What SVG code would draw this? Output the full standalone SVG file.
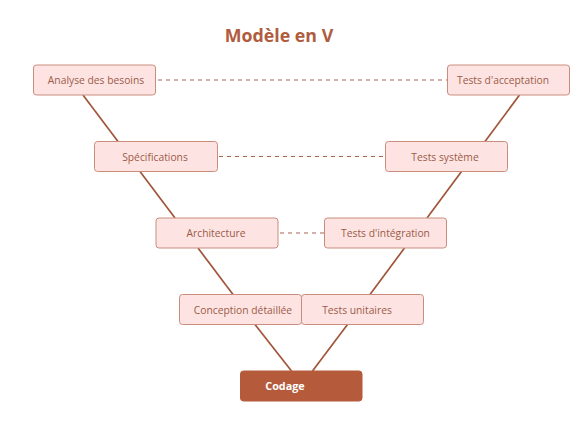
<svg xmlns="http://www.w3.org/2000/svg" width="583" height="428" viewBox="0 0 583 428">
<style>
.bg{fill:#ffffff}
.node rect{fill:#fde4e2;stroke:#c98d7e;stroke-width:1}
.node text{font-family:"Open Sans","Noto Sans",sans-serif;font-size:10.3px;fill:#9c5a48;text-anchor:middle}
.main rect{fill:#b55b3b;stroke:#b55b3b}
.main text{fill:#ffffff;font-weight:bold;font-size:10.8px}
.edge{stroke:#a0553a;stroke-width:1.7;fill:none}
.dash{stroke:#a8654f;stroke-width:1;stroke-dasharray:4 4;fill:none}
.title{font-family:"Open Sans","Noto Sans",sans-serif;font-size:17.8px;font-weight:bold;fill:#b05c3e;text-anchor:middle}
</style>
<rect class="bg" x="0" y="0" width="583" height="428"/>
<text class="title" x="279" y="42">Modèle en V</text>
<g id="connectors">
<line class="edge" x1="83" y1="95" x2="118" y2="141.5"/>
<line class="edge" x1="140" y1="171.5" x2="175" y2="218"/>
<line class="edge" x1="198" y1="248" x2="233" y2="294.5"/>
<line class="edge" x1="255" y1="324.5" x2="291.5" y2="371"/>
<line class="edge" x1="347.5" y1="324.5" x2="312.5" y2="371"/>
<line class="edge" x1="404.5" y1="248" x2="370" y2="294.5"/>
<line class="edge" x1="461.5" y1="171.5" x2="427" y2="218"/>
<line class="edge" x1="519.5" y1="95" x2="485" y2="141.5"/>
<line class="dash" x1="158" y1="80" x2="447" y2="80"/>
<line class="dash" x1="219" y1="156.5" x2="385" y2="156.5"/>
<line class="dash" x1="280" y1="233" x2="324" y2="233"/>
</g>
<g id="analyse" class="node"><rect x="33.5" y="65" width="122" height="30" rx="3"/><text x="96" y="84">Analyse des besoins</text></g>
<g id="specifications" class="node"><rect x="94.5" y="141.5" width="123" height="30" rx="3"/><text x="155" y="160.5">Spécifications</text></g>
<g id="architecture" class="node"><rect x="156" y="218" width="122" height="30" rx="3"/><text x="216" y="237">Architecture</text></g>
<g id="conception" class="node"><rect x="179.5" y="294.5" width="122" height="30" rx="3"/><text x="243" y="313.5">Conception détaillée</text></g>
<g id="codage" class="node main"><rect x="240.5" y="371" width="121.5" height="30" rx="3"/><text x="285" y="390">Codage</text></g>
<g id="unitaires" class="node"><rect x="301.5" y="294.5" width="122" height="30" rx="3"/><text x="357" y="313.5">Tests unitaires</text></g>
<g id="integration" class="node"><rect x="324.5" y="218" width="122" height="30" rx="3"/><text x="385.5" y="237">Tests d'intégration</text></g>
<g id="systeme" class="node"><rect x="385.5" y="141.5" width="122" height="30" rx="3"/><text x="445" y="160.5">Tests système</text></g>
<g id="acceptation" class="node"><rect x="447.5" y="65" width="122" height="30" rx="3"/><text x="503" y="84">Tests d'acceptation</text></g>
</svg>
